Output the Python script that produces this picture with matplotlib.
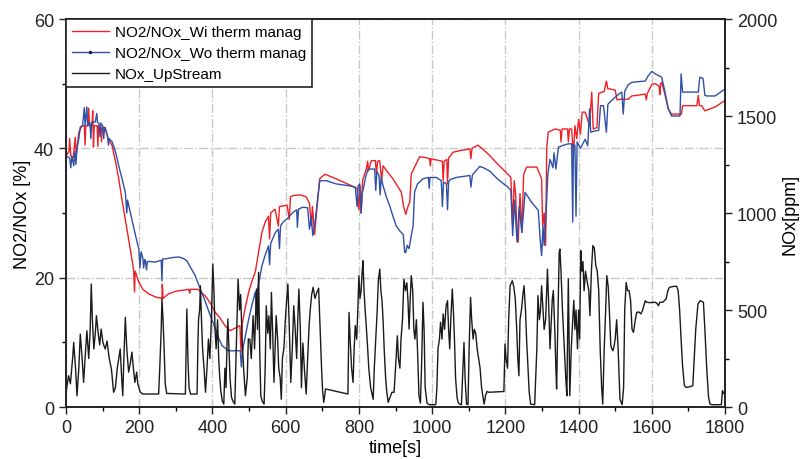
import matplotlib
matplotlib.use("Agg")
import matplotlib.pyplot as plt
from matplotlib.lines import Line2D
from matplotlib.ticker import MultipleLocator

plt.rcParams['font.family'] = ['Liberation Sans', 'DejaVu Sans']

# NO2/NOx with thermal management [%]
wi_t = [0, 8, 10, 13, 20, 25, 28, 35, 44, 50, 52, 54, 60, 62, 64, 71, 73, 75, 77, 85, 87, 89,
        95, 97, 99, 107, 115, 126, 135, 144, 153, 162, 168, 180, 185, 187, 189, 199, 210, 226,
        245, 262, 263, 265, 280, 300, 335, 338, 340, 360, 380, 395, 407, 420, 434, 448, 462,
        475, 478, 481, 490, 499, 508, 517, 526, 535, 544, 553, 556, 559, 571, 580, 583, 593,
        604, 610, 613, 620, 640, 656, 665, 670, 673, 679, 684, 693, 707, 729, 757, 788, 795,
        800, 803, 806, 810, 820, 824, 826, 834, 845, 848, 851, 857, 862, 866, 880, 893, 905,
        916, 922, 928, 935, 939, 943, 952, 960, 966, 980, 993, 995, 997, 1003, 1021, 1028, 1030,
        1033, 1040, 1042, 1045, 1057, 1080, 1103, 1106, 1109, 1125, 1140, 1157, 1180, 1207,
        1215, 1220, 1224, 1228, 1232, 1235, 1240, 1245, 1250, 1258, 1286, 1299, 1302, 1306,
        1310, 1313, 1317, 1336, 1350, 1352, 1355, 1370, 1372, 1375, 1381, 1386, 1390, 1395,
        1400, 1405, 1410, 1418, 1430, 1436, 1440, 1450, 1455, 1470, 1476, 1480, 1485, 1500,
        1505, 1518, 1536, 1545, 1560, 1582, 1585, 1588, 1600, 1610, 1620, 1622, 1624, 1627,
        1635, 1645, 1654, 1681, 1684, 1691, 1723, 1727, 1730, 1736, 1745, 1773, 1800]
wi_v = [38.8, 39.5, 41.5, 38.8, 38.6, 41.7, 39.0, 42.5, 43.5, 43.5, 40.5, 43.5, 43.5, 46.2, 43.5,
        43.5, 45.8, 40.2, 43.5, 43.5, 40.3, 43.5, 43.2, 41.0, 43.3, 43.2, 41.5, 40.4, 38.0, 35.3,
        32.0, 29.0, 27.0, 22.9, 21.0, 17.8, 21.0, 19.3, 18.2, 17.5, 17.0, 16.8, 19.0, 16.8, 17.5,
        17.9, 18.2, 17.6, 18.2, 18.2, 17.2, 16.0, 14.7, 13.8, 12.6, 11.8, 12.2, 12.6, 8.5, 12.8,
        15.5, 17.8, 19.5, 20.9, 24.0, 27.0, 28.6, 29.5, 26.0, 30.0, 30.6, 28.0, 31.0, 31.1, 31.2,
        29.0, 32.5, 32.7, 32.8, 32.5, 31.5, 28.0, 31.0, 26.7, 30.0, 35.3, 36.0, 35.5, 34.8, 34.0,
        33.8, 30.5, 34.2, 30.0, 35.0, 36.8, 38.0, 36.5, 38.1, 38.1, 36.0, 38.0, 38.1, 35.0, 37.3,
        36.2, 35.3, 34.2, 33.2, 31.0, 29.8, 31.2, 31.7, 36.0, 37.1, 38.0, 38.7, 38.6, 38.4, 37.3,
        38.4, 38.3, 38.1, 38.0, 35.0, 38.0, 38.3, 34.5, 38.5, 39.4, 39.7, 39.9, 38.4, 40.0, 40.5,
        39.8, 38.9, 37.5, 36.0, 35.5, 28.0, 35.0, 33.0, 26.0, 25.5, 33.0, 27.0, 36.0, 37.1, 37.1,
        35.3, 28.0, 30.0, 25.0, 40.0, 42.5, 43.0, 42.8, 41.0, 43.0, 43.0, 41.0, 43.0, 43.0, 39.0,
        43.5, 41.5, 44.5, 42.2, 45.6, 45.6, 43.5, 48.7, 43.0, 43.2, 48.5, 48.8, 50.4, 49.2, 49.2,
        49.0, 47.5, 47.6, 47.6, 48.1, 48.2, 48.4, 47.5, 48.5, 49.9, 50.0, 49.6, 48.3, 50.0, 50.2,
        48.5, 46.1, 45.3, 45.3, 46.6, 46.6, 46.6, 48.2, 46.6, 46.6, 45.8, 46.4, 47.4]

# NO2/NOx without thermal management [%]
wo_t = [0, 10, 13, 16, 21, 24, 27, 30, 35, 39, 45, 50, 52, 57, 59, 65, 68, 70, 80, 84, 86, 90,
        93, 95, 100, 103, 105, 107, 113, 116, 118, 126, 135, 144, 153, 162, 166, 168, 180, 190,
        199, 202, 205, 210, 212, 215, 217, 220, 222, 230, 244, 260, 262, 264, 271, 290, 308, 320,
        330, 340, 353, 365, 381, 395, 408, 418, 426, 444, 460, 476, 479, 482, 490, 499, 508, 517,
        520, 523, 535, 544, 553, 556, 559, 572, 580, 583, 586, 593, 604, 620, 630, 632, 635, 647,
        660, 665, 670, 674, 679, 685, 693, 711, 738, 775, 790, 795, 798, 802, 806, 809, 813, 818,
        825, 843, 846, 849, 855, 858, 861, 866, 875, 884, 893, 902, 912, 921, 925, 928, 932, 937,
        943, 948, 952, 960, 975, 990, 992, 994, 1012, 1025, 1028, 1031, 1039, 1042, 1045, 1050,
        1066, 1103, 1106, 1110, 1130, 1140, 1157, 1180, 1207, 1215, 1220, 1225, 1232, 1238,
        1245, 1254, 1270, 1290, 1295, 1299, 1303, 1306, 1310, 1316, 1322, 1330, 1333, 1338,
        1345, 1360, 1372, 1381, 1384, 1386, 1390, 1393, 1396, 1405, 1418, 1425, 1430, 1433,
        1445, 1455, 1460, 1468, 1476, 1480, 1490, 1500, 1510, 1518, 1522, 1526, 1535, 1545,
        1560, 1582, 1590, 1600, 1610, 1627, 1635, 1645, 1654, 1677, 1680, 1684, 1691, 1727,
        1731, 1740, 1745, 1750, 1773, 1800]
wo_v = [38.8, 38.5, 37.0, 38.8, 37.3, 39.5, 37.5, 40.0, 41.5, 43.3, 43.5, 46.3, 43.5, 46.4, 43.5,
        44.0, 41.5, 44.0, 44.1, 45.4, 44.0, 43.9, 41.8, 43.9, 43.5, 41.5, 43.2, 43.0, 42.0, 40.5,
        41.5, 41.0, 39.5, 37.3, 35.3, 33.2, 30.0, 32.0, 29.0, 26.5, 24.4, 21.5, 24.0, 23.0, 21.5,
        22.8, 22.6, 21.2, 22.5, 22.5, 22.4, 22.7, 19.5, 22.9, 22.9, 23.1, 23.2, 23.0, 22.6, 21.6,
        20.3, 18.5, 16.2, 14.0, 12.1, 10.5, 9.5, 8.7, 8.7, 8.7, 6.2, 8.7, 11.0, 13.6, 15.8, 17.8,
        14.8, 18.2, 21.8, 23.5, 24.9, 22.0, 25.3, 27.0, 27.5, 24.5, 28.0, 28.6, 29.1, 30.1, 30.5,
        27.8, 30.6, 30.9, 30.8, 27.5, 29.5, 26.5, 28.0, 31.0, 35.0, 35.0, 34.5, 34.2, 34.0, 31.0,
        34.2, 34.5, 30.0, 33.0, 34.0, 35.5, 36.8, 36.8, 33.5, 36.4, 35.8, 32.8, 35.5, 34.2, 32.5,
        31.1, 29.5, 28.0, 27.2, 26.7, 23.9, 23.9, 25.0, 24.5, 26.5, 28.0, 33.2, 34.5, 35.3, 35.5,
        33.8, 35.5, 35.5, 35.0, 31.0, 34.8, 34.5, 30.5, 34.8, 35.2, 35.5, 35.8, 34.0, 35.9, 37.2,
        37.0, 36.5, 35.2, 34.0, 33.5, 26.5, 32.0, 25.5, 31.0, 27.0, 33.2, 31.8, 30.4, 26.0, 23.4,
        28.0, 25.0, 28.5, 36.0, 38.3, 37.0, 39.3, 36.8, 40.2, 40.5, 40.7, 40.7, 28.6, 40.6, 40.5,
        29.5, 41.0, 40.0, 41.4, 40.4, 46.1, 42.5, 42.7, 42.8, 46.6, 46.6, 42.5, 46.8, 47.4, 47.9,
        48.4, 48.7, 45.3, 48.8, 49.8, 50.2, 50.3, 50.4, 51.2, 51.9, 51.5, 51.0, 49.0, 46.1, 45.0,
        45.0, 51.5, 48.7, 48.7, 48.7, 51.0, 50.8, 48.2, 48.1, 48.1, 49.2]

# NOx upstream [ppm]
nox_t = [0, 7, 12, 18, 21, 26, 30, 35, 39, 44, 48, 53, 57, 62, 66, 69, 72, 76, 80, 83, 88, 92,
         96, 101, 107, 112, 118, 124, 130, 135, 140, 148, 152, 155, 158, 162, 166, 171, 176, 180,
         184, 188, 193, 196, 203, 210, 253, 256, 260, 262, 265, 268, 271, 275, 326, 328, 330,
         333, 336, 340, 358, 360, 362, 365, 367, 370, 373, 377, 381, 385, 389, 393, 397, 401,
         404, 407, 410, 414, 417, 420, 423, 427, 431, 434, 437, 440, 442, 445, 448, 452, 456,
         461, 465, 470, 474, 477, 481, 485, 490, 495, 498, 502, 506, 511, 515, 520, 523, 526,
         529, 532, 536, 541, 544, 547, 551, 554, 558, 561, 565, 568, 571, 574, 578, 581, 585,
         588, 591, 595, 600, 606, 610, 614, 618, 622, 626, 630, 633, 636, 640, 643, 647, 651,
         656, 660, 664, 667, 671, 675, 680, 685, 690, 694, 698, 701, 704, 709, 770, 773, 776,
         780, 784, 787, 790, 794, 797, 800, 803, 806, 809, 811, 814, 817, 820, 824, 827, 832,
         839, 842, 846, 850, 853, 857, 860, 863, 866, 869, 873, 876, 880, 885, 890, 896, 900,
         905, 908, 912, 915, 919, 923, 927, 931, 934, 937, 940, 943, 947, 950, 953, 957, 960,
         964, 968, 971, 975, 978, 981, 986, 992, 1010, 1013, 1016, 1020, 1023, 1027, 1030, 1034,
         1038, 1042, 1045, 1048, 1051, 1055, 1058, 1061, 1064, 1068, 1071, 1075, 1080, 1084,
         1087, 1090, 1094, 1098, 1101, 1105, 1108, 1112, 1115, 1119, 1123, 1127, 1131, 1135,
         1142, 1146, 1150, 1155, 1196, 1199, 1202, 1206, 1209, 1213, 1219, 1223, 1227, 1231,
         1234, 1237, 1240, 1244, 1248, 1251, 1255, 1258, 1262, 1265, 1269, 1280, 1286, 1289,
         1293, 1296, 1299, 1303, 1306, 1310, 1315, 1318, 1322, 1325, 1328, 1331, 1335, 1338,
         1340, 1343, 1347, 1349, 1352, 1356, 1361, 1365, 1368, 1372, 1376, 1380, 1384, 1387,
         1390, 1393, 1397, 1400, 1403, 1406, 1409, 1412, 1415, 1419, 1423, 1428, 1431, 1435,
         1439, 1443, 1447, 1451, 1455, 1459, 1463, 1466, 1470, 1474, 1477, 1481, 1484, 1488,
         1491, 1494, 1497, 1500, 1504, 1508, 1513, 1519, 1523, 1526, 1530, 1534, 1538, 1542,
         1546, 1550, 1555, 1559, 1565, 1570, 1575, 1582, 1586, 1595, 1609, 1614, 1618, 1622,
         1630, 1639, 1644, 1648, 1660, 1668, 1672, 1676, 1680, 1684, 1689, 1694, 1705, 1712,
         1716, 1720, 1726, 1732, 1741, 1745, 1750, 1755, 1759, 1765, 1790, 1792, 1793, 1796, 1800]
nox_v = [76, 161, 120, 250, 333, 200, 58, 200, 376, 250, 127, 280, 393, 250, 400, 634, 450, 299,
         380, 471, 380, 320, 402, 330, 299, 340, 250, 196, 76, 100, 200, 299, 150, 58, 250, 462,
         300, 180, 230, 283, 200, 127, 180, 120, 76, 67, 67, 200, 400, 557, 450, 300, 120, 70,
         67, 300, 505, 250, 100, 67, 67, 300, 454, 500, 625, 450, 300, 200, 76, 200, 350, 250,
         450, 737, 600, 400, 300, 450, 250, 150, 80, 30, 15, 200, 100, 350, 454, 300, 150, 50,
         30, 15, 300, 660, 500, 580, 350, 200, 58, 150, 350, 350, 250, 471, 300, 608, 400, 694,
         300, 58, 30, 15, 200, 522, 380, 470, 300, 591, 350, 127, 300, 471, 350, 200, 150, 40,
         250, 300, 480, 634, 400, 127, 300, 522, 400, 250, 450, 608, 400, 100, 330, 200, 67, 250,
         419, 500, 580, 617, 560, 590, 612, 400, 200, 80, 24, 93, 67, 488, 350, 200, 127, 300,
         420, 350, 500, 677, 560, 600, 700, 754, 600, 500, 420, 300, 200, 100, 40, 200, 350, 500,
         650, 711, 600, 550, 450, 300, 150, 80, 24, 50, 76, 76, 200, 367, 250, 200, 350, 450, 660,
         600, 640, 550, 402, 550, 677, 600, 400, 350, 450, 300, 58, 20, 200, 540, 400, 100, 20,
         12, 12, 100, 300, 350, 437, 350, 480, 400, 520, 548, 400, 300, 450, 608, 500, 350, 150,
         50, 24, 15, 12, 200, 333, 150, 15, 12, 300, 565, 450, 350, 400, 380, 300, 250, 200, 100,
         15, 60, 80, 76, 80, 325, 250, 200, 450, 625, 651, 620, 560, 400, 250, 161, 450, 500, 580,
         625, 500, 350, 200, 80, 15, 12, 300, 574, 450, 500, 625, 500, 400, 450, 711, 550, 300,
         420, 550, 600, 400, 200, 93, 400, 797, 814, 700, 500, 300, 150, 58, 660, 58, 300, 450,
         550, 400, 500, 300, 500, 350, 806, 700, 750, 600, 700, 650, 600, 471, 700, 832, 820, 730,
         700, 600, 300, 100, 15, 300, 500, 677, 620, 500, 316, 300, 290, 316, 350, 450, 300, 40,
         12, 100, 500, 642, 600, 600, 550, 400, 385, 450, 488, 490, 480, 500, 548, 540, 538, 540,
         535, 522, 540, 540, 557, 600, 617, 622, 622, 600, 500, 350, 213, 110, 101, 105, 110, 250,
         400, 530, 548, 540, 400, 200, 50, 15, 12, 12, 60, 84, 70, 67]

red = '#ee1f26'
blue = '#2f50a6'
black = '#1a1a1a'
grid_color = '#c8c8c8'

fig = plt.figure(figsize=(8.09, 4.6), dpi=100)
ax = fig.add_axes([0.0816, 0.113, 0.8146, 0.8435])
ax2 = ax.twinx()

ax.plot(wi_t, wi_v, '-', color=red, lw=1.0)
ax.plot(wo_t, wo_v, '-', color=blue, lw=1.0)
ax2.plot(nox_t, nox_v, '-', color=black, lw=1.0)

ax.set_xlim(0, 1800)
ax.set_ylim(0, 60)
ax2.set_ylim(0, 2000)

ax.xaxis.set_major_locator(MultipleLocator(200))
ax.xaxis.set_minor_locator(MultipleLocator(100))
ax.yaxis.set_major_locator(MultipleLocator(20))
ax.yaxis.set_minor_locator(MultipleLocator(10))
ax2.yaxis.set_major_locator(MultipleLocator(500))
ax2.yaxis.set_minor_locator(MultipleLocator(250))

for a in (ax, ax2):
    a.tick_params(which='major', direction='out', length=5, width=1, labelsize=13, colors='#222222')
    a.tick_params(which='minor', direction='out', length=3, width=1)
    for s in a.spines.values():
        s.set_linewidth(1.2)
        s.set_color('#222222')

ax.grid(True, which='major', color=grid_color, linestyle='-.', linewidth=1.0)
ax.set_axisbelow(True)

ax.set_xlabel('time[s]', fontsize=13, labelpad=2)
ax.set_ylabel('NO2/NOx [%]', fontsize=13, labelpad=2)
ax2.set_ylabel('NOx[ppm]', fontsize=13, labelpad=3)

handles = [Line2D([0], [0], color=red, lw=1.0),
           Line2D([0], [0], color=blue, lw=1.0, marker='.', markersize=3,
                  markerfacecolor='#222222', markeredgecolor='#222222'),
           Line2D([0], [0], color=black, lw=1.0)]
labels = ['NO2/NOx_Wi therm manag', 'NO2/NOx_Wo therm manag', 'NOx_UpStream']
leg = ax2.legend(handles, labels, loc='upper left', borderaxespad=0, fontsize=11,
                 fancybox=False, framealpha=1, edgecolor='#222222', handlelength=2.4,
                 handletextpad=0.4, labelspacing=0.45, borderpad=0.4, numpoints=1)
leg.get_frame().set_linewidth(1.2)

fig.savefig('out.png', dpi=100)
